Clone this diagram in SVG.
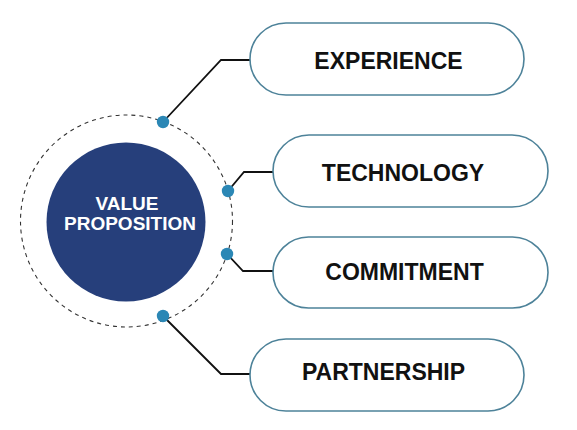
<svg xmlns="http://www.w3.org/2000/svg" width="577" height="430" viewBox="0 0 577 430">
  <style>
    .pill { fill: #ffffff; stroke: #4d8299; stroke-width: 1.6; }
    .label { font-family: "Liberation Sans", Arial, sans-serif; font-weight: bold; font-size: 23px; fill: #111111; text-anchor: middle; }
    .hub-text { font-family: "Liberation Sans", Arial, sans-serif; font-weight: bold; font-size: 19px; fill: #ffffff; text-anchor: middle; }
    .link { fill: none; stroke: #111111; stroke-width: 1.8; stroke-linejoin: miter; }
    .dot { fill: #2b87b5; }
  </style>
  <rect width="577" height="430" fill="#ffffff"/>

  <!-- central hub -->
  <g id="value-proposition">
    <circle cx="126.5" cy="221" r="106" fill="none" stroke="#333333" stroke-width="1.1" stroke-dasharray="4 4"/>
    <circle cx="126" cy="222" r="79.5" fill="#263f7b"/>
    <text class="hub-text" x="127" y="210">VALUE</text>
    <text class="hub-text" x="130" y="230">PROPOSITION</text>
  </g>

  <!-- connectors -->
  <g id="connectors">
    <polyline class="link" points="163,122 221,60 250,60"/>
    <polyline class="link" points="228,191 244,172 273,172"/>
    <polyline class="link" points="227,254 243,271 273,271"/>
    <polyline class="link" points="163,316 221,374 250,374"/>
    <circle class="dot" cx="163" cy="122" r="6.2"/>
    <circle class="dot" cx="228" cy="191" r="6.2"/>
    <circle class="dot" cx="227" cy="254" r="6.2"/>
    <circle class="dot" cx="163" cy="316" r="6.2"/>
  </g>

  <g id="experience">
    <rect class="pill" x="250" y="23" width="274" height="72" rx="36"/>
    <text class="label" x="388.5" y="68.5">EXPERIENCE</text>
  </g>

  <g id="technology">
    <rect class="pill" x="273" y="135" width="275" height="72" rx="36"/>
    <text class="label" x="403" y="180.5">TECHNOLOGY</text>
  </g>

  <g id="commitment">
    <rect class="pill" x="273" y="237" width="275" height="71" rx="35.5"/>
    <text class="label" x="404.5" y="279.5">COMMITMENT</text>
  </g>

  <g id="partnership">
    <rect class="pill" x="250" y="339" width="274" height="72" rx="36"/>
    <text class="label" x="383.5" y="379.5">PARTNERSHIP</text>
  </g>
</svg>
